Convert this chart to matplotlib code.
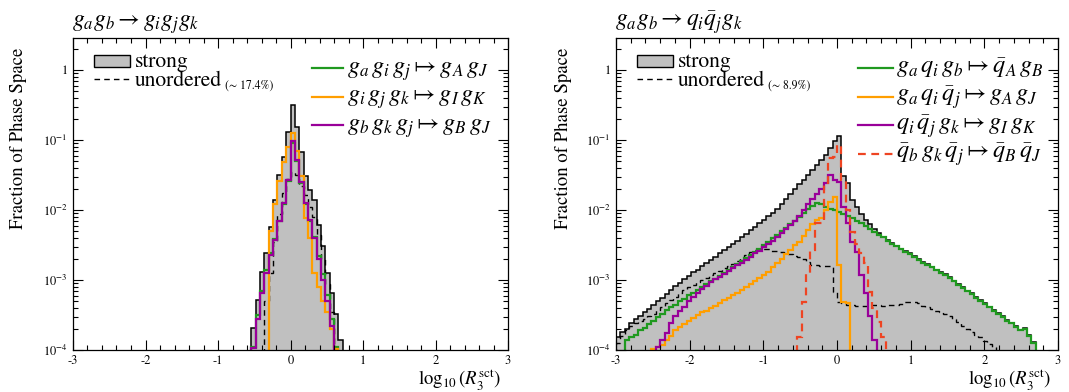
import numpy as np
import matplotlib
matplotlib.use("Agg")
import matplotlib.pyplot as plt
from matplotlib.patches import Rectangle
from matplotlib.ticker import MultipleLocator, LogLocator, NullFormatter, FixedLocator, FixedFormatter

plt.rcParams['mathtext.fontset'] = 'stix'
plt.rcParams['font.family'] = ['STIXGeneral', 'DejaVu Serif']
plt.rcParams['axes.unicode_minus'] = False

# ---------------- data (log10 of fraction per bin; first bin index given) ----------------
x_min, x_max, n_bins = -3.0, 3.0, 100

# Left panel: g_a g_b -> g_i g_j g_k
L_strong_start = 41
L_strong = [-3.69, -3.28, -2.88, -2.62, -2.24, -1.86, -1.50, -1.24, -0.88, -0.50,
            -0.81, -1.17, -1.52, -1.71, -1.86, -2.21, -2.52, -2.90, -3.19, -3.48, -3.86]
L_unord_start = 44
L_unord = [-3.30, -2.90, -2.45, -2.05, -1.75, -1.55, -1.45, -1.50, -1.65, -1.78,
           -1.95, -2.10, -2.35, -2.70, -3.05, -3.45]
L_green_start = 41
L_green = [-3.95, -3.50, -3.15, -2.86, -2.62, -2.42, -2.15, -1.92, -1.58, -1.04,
           -1.30, -1.62, -1.92, -2.16, -2.38, -2.66, -2.92, -3.22, -3.55, -3.95]
L_orange_start = 45
L_orange = [-2.30, -1.92, -1.58, -1.32, -1.10, -0.90, -1.15, -1.52, -2.12, -2.40,
            -2.90, -3.10, -3.30, -3.45, -3.70, -3.98]
L_purple_start = 41
L_purple = [-3.97, -3.55, -3.19, -2.90, -2.64, -2.43, -2.15, -1.90, -1.57, -1.02,
            -1.29, -1.60, -1.90, -2.14, -2.40, -2.70, -3.00, -3.30, -3.65]

# Right panel: g_a g_b -> q_i qbar_j g_k
R_strong_start = 0
R_strong = [-3.81, -3.74, -3.70, -3.62, -3.56, -3.52, -3.46, -3.42, -3.36, -3.30,
            -3.25, -3.20, -3.14, -3.09, -3.04, -2.98, -2.94, -2.89, -2.85, -2.80,
            -2.76, -2.71, -2.67, -2.62, -2.57, -2.53, -2.48, -2.44, -2.39, -2.34,
            -2.29, -2.24, -2.19, -2.14, -2.09, -2.04, -1.98, -1.91, -1.84, -1.77,
            -1.70, -1.63, -1.57, -1.50, -1.43, -1.36, -1.29, -1.22, -1.12, -1.02,
            -0.94, -1.52, -1.62, -1.85, -1.95, -2.05, -2.14, -2.20, -2.27, -2.33,
            -2.38, -2.43, -2.47, -2.51, -2.55, -2.59, -2.62, -2.66, -2.70, -2.74,
            -2.77, -2.81, -2.85, -2.89, -2.92, -2.96, -3.01, -3.06, -3.10, -3.15,
            -3.19, -3.24, -3.29, -3.33, -3.38, -3.43, -3.47, -3.52, -3.57, -3.61,
            -3.66, -3.71, -3.69, -3.79, -3.89]
R_unord_start = 0
R_unord = [-3.90, -3.80, -3.72, -3.66, -3.61, -3.58, -3.55, -3.51, -3.48, -3.43,
           -3.38, -3.33, -3.28, -3.24, -3.19, -3.14, -3.10, -3.07, -3.03, -3.00,
           -2.97, -2.93, -2.90, -2.87, -2.83, -2.80, -2.77, -2.73, -2.68, -2.64,
           -2.60, -2.57, -2.55, -2.55, -2.56, -2.58, -2.59, -2.60, -2.62, -2.63,
           -2.65, -2.67, -2.70, -2.74, -2.78, -2.79, -2.80, -2.80, -2.80, -3.17,
           -3.31, -3.33, -3.36, -3.36, -3.37, -3.37, -3.37, -3.36, -3.36, -3.36,
           -3.37, -3.36, -3.35, -3.35, -3.34, -3.32, -3.32, -3.32, -3.33, -3.37,
           -3.39, -3.42, -3.44, -3.46, -3.48, -3.52, -3.56, -3.60, -3.65, -3.70,
           -3.74, -3.78, -3.82, -3.87, -3.92, -3.96]
R_green_start = 2
R_green = [-3.86, -3.82, -3.78, -3.72, -3.68, -3.63, -3.58, -3.53, -3.48, -3.43,
           -3.39, -3.35, -3.30, -3.27, -3.22, -3.18, -3.14, -3.10, -3.06, -3.02,
           -2.98, -2.94, -2.90, -2.85, -2.81, -2.77, -2.73, -2.68, -2.64, -2.60,
           -2.55, -2.50, -2.45, -2.40, -2.35, -2.30, -2.25, -2.20, -2.15, -2.10,
           -2.04, -1.99, -1.94, -1.90, -1.92, -1.95, -1.98, -2.00, -2.03, -2.05,
           -2.08, -2.11, -2.15, -2.19, -2.23, -2.27, -2.31, -2.35, -2.39, -2.44,
           -2.48, -2.52, -2.56, -2.60, -2.63, -2.67, -2.71, -2.75, -2.78, -2.82,
           -2.86, -2.90, -2.93, -2.97, -3.02, -3.07, -3.11, -3.16, -3.20, -3.25,
           -3.30, -3.34, -3.39, -3.44, -3.48, -3.53, -3.58, -3.62, -3.67, -3.72,
           -3.70, -3.80, -3.90]
R_orange_start = 8
R_orange = [-3.98, -3.96, -3.93, -3.85, -3.80, -3.72, -3.67, -3.63, -3.58, -3.54,
            -3.50, -3.46, -3.44, -3.40, -3.37, -3.33, -3.29, -3.25, -3.22, -3.18,
            -3.14, -3.10, -3.06, -3.01, -2.97, -2.93, -2.88, -2.82, -2.76, -2.70,
            -2.63, -2.57, -2.50, -2.45, -2.37, -2.29, -2.20, -2.14, -2.12, -2.00,
            -1.88, -1.82, -2.78, -3.31, -3.33]
R_purple_start = 9
R_purple = [-3.95, -3.85, -3.75, -3.62, -3.52, -3.44, -3.38, -3.30, -3.24, -3.18,
            -3.13, -3.08, -3.03, -2.98, -2.95, -2.91, -2.87, -2.83, -2.79, -2.75,
            -2.71, -2.67, -2.62, -2.58, -2.53, -2.49, -2.44, -2.39, -2.33, -2.27,
            -2.21, -2.15, -2.08, -2.00, -1.92, -1.84, -1.77, -1.70, -1.62, -1.50,
            -1.57, -1.60, -1.95, -2.19, -2.45, -2.60, -2.93, -3.19, -3.52, -3.86]
R_red_start = 41
R_red = [-3.81, -3.31, -2.90, -2.57, -2.19, -2.19, -1.64, -1.26, -1.24, -1.07,
         -1.57, -2.00, -2.31, -2.48, -2.62, -2.76, -3.17, -3.40, -3.60, -3.81]

left_title = r'$g_a g_b \rightarrow g_i g_j g_k$'
right_title = r'$g_a g_b \rightarrow q_i \bar{q}_j g_k$'
left_labels = [r'$g_a\,g_i\,g_j \mapsto g_A\,g_J$', r'$g_i\,g_j\,g_k \mapsto g_I\,g_K$',
               r'$g_b\,g_k\,g_j \mapsto g_B\,g_J$']
right_labels = [r'$g_a\,q_i\,g_b \mapsto \bar{q}_A\,g_B$', r'$g_a\,q_i\,\bar{q}_j \mapsto g_A\,g_J$',
                r'$q_i\,\bar{q}_j\,g_k \mapsto g_I\,g_K$',
                r'$\bar{q}_b\,g_k\,\bar{q}_j \mapsto \bar{q}_B\,\bar{q}_J$']
left_unord_pct = '(∼ 17.4%)'
right_unord_pct = '(∼ 8.9%)'

# ---------------- style ----------------
GRAY = '#c0c0c0'
GREEN = '#1f991f'
ORANGE = '#ff9e00'
PURPLE = '#990099'
RED = '#ee4422'
FLOOR = 1e-9

edges = np.linspace(x_min, x_max, n_bins + 1)


def series(start, logs):
    v = np.full(n_bins, FLOOR)
    v[start:start + len(logs)] = 10.0 ** np.asarray(logs)
    return v


fig = plt.figure(figsize=(10.69, 3.92), dpi=100)
W, H = 1069.0, 392.0
axL = fig.add_axes([73 / W, (H - 350) / H, 435 / W, 312 / H])
axR = fig.add_axes([616 / W, (H - 350) / H, 442 / W, 312 / H])


def draw(ax, strong, unord, colored):
    ax.stairs(strong, edges, baseline=FLOOR, fill=True, facecolor=GRAY, edgecolor='none')
    ax.stairs(strong, edges, baseline=FLOOR, color='k', lw=1.1)
    ax.stairs(unord, edges, baseline=FLOOR, color='k', lw=1.0, linestyle=(0, (4, 3)))
    for vals, col, ls in colored:
        ax.stairs(vals, edges, baseline=FLOOR, color=col, lw=1.6, linestyle=ls)


draw(axL, series(L_strong_start, L_strong), series(L_unord_start, L_unord),
     [(series(L_green_start, L_green), GREEN, '-'),
      (series(L_orange_start, L_orange), ORANGE, '-'),
      (series(L_purple_start, L_purple), PURPLE, '-')])
draw(axR, series(R_strong_start, R_strong), series(R_unord_start, R_unord),
     [(series(R_green_start, R_green), GREEN, '-'),
      (series(R_orange_start, R_orange), ORANGE, '-'),
      (series(R_purple_start, R_purple), PURPLE, '-'),
      (series(R_red_start, R_red), RED, (0, (3.5, 2.5)))])

for ax in (axL, axR):
    ax.set_xlim(x_min, x_max)
    ax.set_yscale('log')
    ax.set_ylim(1e-4, 2.87)
    ax.xaxis.set_major_locator(FixedLocator([-3, -2, -1, 0, 1, 2, 3]))
    ax.xaxis.set_major_formatter(FixedFormatter(['-3', '-2', '-1', '0', '1', '2', '3']))
    ax.xaxis.set_minor_locator(MultipleLocator(0.2))
    ax.yaxis.set_major_locator(FixedLocator([1e-4, 1e-3, 1e-2, 1e-1, 1]))
    ax.yaxis.set_major_formatter(FixedFormatter([r'$10^{-4}$', r'$10^{-3}$', r'$10^{-2}$',
                                                 r'$10^{-1}$', '1']))
    ax.yaxis.set_minor_locator(LogLocator(base=10, subs=np.arange(2, 10) * 1.0, numticks=30))
    ax.yaxis.set_minor_formatter(NullFormatter())
    ax.tick_params(which='both', direction='in', top=True, right=True, width=0.8)
    ax.tick_params(which='major', length=7, labelsize=9)
    ax.tick_params(axis='x', which='major', pad=4)
    ax.tick_params(axis='y', which='major', pad=4)
    ax.tick_params(which='minor', length=3.5)
    for s in ax.spines.values():
        s.set_linewidth(0.9)
    ax.text(-0.126 if ax is axL else -0.12, 0.968, 'Fraction of Phase Space', rotation=90,
            transform=ax.transAxes, ha='center', va='top', fontsize=13.5)
    ax.text(0.985, (350 - 392) / 312.0, r'$\log_{10}(R_3^{\rm sct})$', transform=ax.transAxes,
            ha='right', va='bottom', fontsize=13.5, clip_on=False)


def legend(ax, x0px, wpx, pct, labels, colors, styles, lx0, lx1, tx):
    def fx(px):
        return (px - x0px) / wpx

    def fy(py):
        return (350 - py) / 312.0

    ax.add_patch(Rectangle((fx(x0px + 21), fy(67)), fx(x0px + 57) - fx(x0px + 21), fy(55) - fy(67),
                           transform=ax.transAxes, facecolor=GRAY, edgecolor='k', lw=1.0,
                           clip_on=False, zorder=5))
    ax.text(fx(x0px + 62), fy(66.5), 'strong', transform=ax.transAxes, ha='left',
            va='baseline', fontsize=15.5)
    ax.plot([fx(x0px + 21), fx(x0px + 57)], [fy(79), fy(79)], transform=ax.transAxes,
            color='k', lw=1.0, linestyle=(0, (4, 3)), clip_on=False)
    t = ax.text(fx(x0px + 62), fy(86.5), 'unordered', transform=ax.transAxes, ha='left',
                va='baseline', fontsize=15.5)
    ax.annotate(pct, xy=(1, 0), xycoords=t, xytext=(2, 0), textcoords='offset points',
                ha='left', va='bottom', fontsize=8.5)
    rows = [68, 96.7, 125, 153.5]
    for i, (lab, col, ls) in enumerate(zip(labels, colors, styles)):
        y = rows[i]
        ax.plot([fx(lx0), fx(lx1)], [fy(y), fy(y)], transform=ax.transAxes, color=col,
                lw=1.6, linestyle=ls, clip_on=False)
        ax.text(fx(tx), fy(y + 5.5), lab, transform=ax.transAxes, ha='left', va='baseline',
                fontsize=17.5)


legend(axL, 73, 435, left_unord_pct, left_labels, [GREEN, ORANGE, PURPLE], ['-', '-', '-'],
       312, 343, 347)
legend(axR, 616, 442, right_unord_pct, right_labels, [GREEN, ORANGE, PURPLE, RED],
       ['-', '-', '-', (0, (3.5, 2.5))], 858, 893, 896)

axL.text(-0.002, (350 - 26.5) / 312, left_title, transform=axL.transAxes, ha='left',
         va='baseline', fontsize=17)
axR.text(-0.002, (350 - 26.5) / 312, right_title, transform=axR.transAxes, ha='left',
         va='baseline', fontsize=17)

fig.savefig('out.png', dpi=100)
